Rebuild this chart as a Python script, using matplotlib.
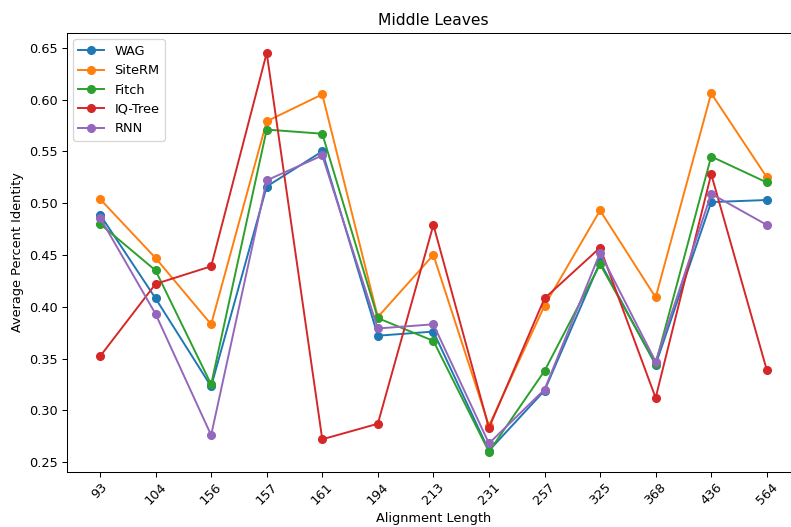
import matplotlib
matplotlib.use("Agg")
import matplotlib.pyplot as plt

lengths = ["93", "104", "156", "157", "161", "194", "213", "231", "257", "325", "368", "436", "564"]
wag = [0.489, 0.408, 0.323, 0.516, 0.550, 0.372, 0.376, 0.261, 0.319, 0.443, 0.344, 0.501, 0.503]
siterm = [0.504, 0.447, 0.383, 0.579, 0.605, 0.390, 0.450, 0.285, 0.401, 0.493, 0.409, 0.606, 0.525]
fitch = [0.480, 0.435, 0.325, 0.571, 0.567, 0.389, 0.367, 0.260, 0.338, 0.441, 0.345, 0.545, 0.520]
iqtree = [0.352, 0.422, 0.439, 0.645, 0.272, 0.287, 0.479, 0.283, 0.408, 0.457, 0.312, 0.528, 0.339]
rnn = [0.486, 0.393, 0.276, 0.522, 0.546, 0.379, 0.383, 0.268, 0.320, 0.452, 0.347, 0.509, 0.479]

series = [("WAG", wag), ("SiteRM", siterm), ("Fitch", fitch), ("IQ-Tree", iqtree), ("RNN", rnn)]

DPI = 93
fig, ax = plt.subplots(figsize=(791 / DPI, 527 / DPI), dpi=DPI)
for name, vals in series:
    ax.plot(lengths, vals, marker="o", label=name)
ax.set_title("Middle Leaves")
ax.set_xlabel("Alignment Length")
ax.set_ylabel("Average Percent Identity")
ax.tick_params(axis="x", rotation=45)
ax.legend(loc="upper left")
fig.subplots_adjust(left=0.0843, right=1.0115, top=0.9374, bottom=0.105)
fig.savefig("out.png", dpi=DPI)
